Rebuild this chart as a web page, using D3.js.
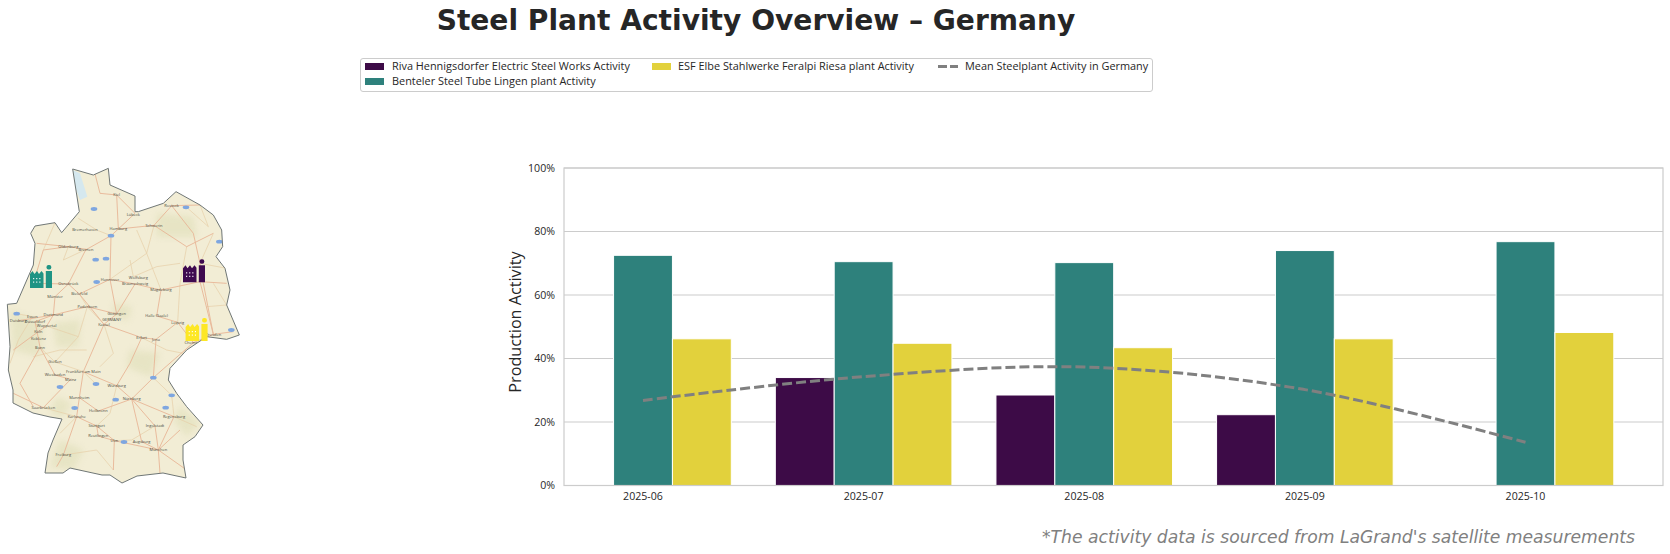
<!DOCTYPE html>
<html>
<head>
<meta charset="utf-8">
<script src="https://cdn.jsdelivr.net/npm/d3@7"></script>
<style>
  html, body { margin: 0; padding: 0; background: white; }
  svg { display: block; }
</style>
</head>
<body>
<div id="chart"></div>
<script>
// chart data
const months = ["2025-06", "2025-07", "2025-08", "2025-09", "2025-10"]
const rivaActivity = [null, 34, 28.5, 22.3, null]
const bentelerActivity = [72.5, 70.5, 70.2, 74, 76.8]
const esfActivity = [46.2, 44.8, 43.4, 46.2, 48.2]
const meanActivity = [26.8, 34.3, 37.3, 30.2, 13.6]
const yTicks = [0, 20, 40, 60, 80, 100]

const seriesNames = [
  "Riva Hennigsdorfer Electric Steel Works Activity",
  "Benteler Steel Tube Lingen plant Activity",
  "ESF Elbe Stahlwerke Feralpi Riesa plant Activity"
]
const seriesValues = [rivaActivity, bentelerActivity, esfActivity]
const seriesColors = ["#3d0b47", "#2e817c", "#e2d13c"]
const meanName = "Mean Steelplant Activity in Germany"

// map sheet, in the units of the map picture
const mapOutline = [[218,57],[280,75],[325,55],[330,105],[405,138],[405,185],[415,185],[490,160],[528,125],[600,165],[640,195],[665,240],[668,290],[648,320],[675,355],[690,420],[680,465],[718,555],[680,568],[620,560],[560,600],[510,655],[505,690],[530,730],[560,770],[609,825],[585,860],[549,885],[549,930],[558,984],[489,969],[411,978],[366,999],[330,975],[306,975],[210,954],[189,969],[135,969],[144,909],[159,870],[186,807],[150,801],[99,789],[39,759],[39,720],[25,660],[30,590],[22,463],[50,460],[100,345],[105,280],[92,250],[105,228],[165,218],[185,248],[238,185]]
const mapWater = [[218,60],[240,70],[262,140],[240,150],[225,110]]
const mapHills = [[[160,520],[240,510],[235,590],[170,590]],[[340,460],[395,470],[385,510],[340,500]],[[390,600],[480,610],[450,680],[380,650]],[[170,740],[215,760],[190,800],[150,790]],[[540,770],[600,820],[560,860],[520,810]],[[30,480],[130,520],[120,620],[40,600]],[[180,870],[250,900],[220,960],[150,950]],[[470,190],[580,200],[590,260],[470,260]]]
const roads = [
  [[282,60],[300,130],[350,135],[355,237],[333,257],[260,298],[205,290],[110,280]],
  [[350,135],[405,190],[355,237],[462,226],[515,167],[600,165]],
  [[462,226],[560,290],[640,250]],
  [[515,167],[580,250],[600,340],[610,400],[640,553]],
  [[333,257],[330,388],[350,492],[312,523],[250,665],[238,743],[230,800],[290,828],[343,872],[475,900],[480,970]],
  [[258,298],[205,402],[165,440],[160,495],[105,515],[115,565],[120,592],[165,675],[212,688]],
  [[330,388],[238,432],[205,402],[100,400]],
  [[330,388],[405,402],[483,420],[600,395],[680,400]],
  [[483,420],[470,498],[533,517],[580,578],[640,553],[700,545]],
  [[533,517],[468,568],[425,563],[312,523],[238,432]],
  [[468,568],[460,683],[395,747],[465,828],[475,900]],
  [[395,747],[350,707],[250,665]],
  [[395,747],[295,783],[238,743]],
  [[160,495],[262,470],[350,492],[405,402]],
  [[55,512],[160,495],[140,528],[115,545],[40,600]],
  [[212,688],[130,773],[40,730]],
  [[230,800],[190,915],[170,950]],
  [[290,828],[295,858],[343,872],[340,960]],
  [[395,747],[425,875],[475,900],[540,840]],
  [[395,747],[522,800],[475,900]],
  [[460,683],[580,578]],
  [[475,900],[560,960]],
  [[100,400],[130,300],[205,290]],
  [[600,395],[640,553]],
  [[425,563],[390,640],[350,707]],
  [[120,592],[60,700],[100,770]]
]
const minorRoads = [
  [[235,205],[290,240],[333,257]],[[462,226],[440,310],[483,420]],[[205,290],[190,330],[258,298]],
  [[390,330],[400,380],[470,350],[540,340]],[[560,290],[540,400],[533,517]],[[640,250],[600,340],[680,355]],
  [[238,432],[262,470],[235,560],[165,636],[120,592]],[[262,470],[312,523],[340,610],[300,650]],[[165,636],[250,665],[288,702]],
  [[50,491],[97,500],[55,570],[30,640]],[[140,528],[235,560]],[[350,707],[330,790],[290,828]],
  [[522,800],[590,830]],[[465,828],[395,870],[343,872]],[[522,800],[515,736],[460,683]],[[190,915],[290,900],[340,960]],
  [[130,773],[230,800]],[[100,620],[180,600],[260,600]],[[425,563],[500,600],[600,620]],[[620,470],[680,465],[640,400]],
  [[600,165],[625,230],[560,172]],[[180,850],[230,800]],[[130,300],[165,218]],[[410,240],[440,310],[330,388]]
]
const cityNames = ["Kiel","Rostock","Hamburg","Schwerin","Lübeck","Bremerhaven","Oldenburg","Bremen","Hannover","Wolfsburg","Braunschweig","Magdeburg","Osnabrück","Bielefeld","Münster","Paderborn","Göttingen","Kassel","Dortmund","Essen","Duisburg","Düsseldorf","Wuppertal","Köln","Bonn","Leipzig","Halle (Saale)","Dresden","Chemnitz","Erfurt","Jena","Frankfurt am Main","Mainz","Wiesbaden","Gießen","Koblenz","Saarbrücken","Mannheim","Karlsruhe","Würzburg","Nürnberg","Heilbronn","Stuttgart","Regensburg","Ingolstadt","Augsburg","München","Ulm","Reutlingen","Freiburg","GERMANY"]
const cityX = [350,515,355,462,400,255,205,258,330,415,405,483,205,238,165,262,350,312,160,97,55,105,140,115,120,533,470,640,580,425,468,250,212,165,165,115,130,238,230,350,395,295,290,522,465,425,475,343,295,190,335]
const cityY = [133,167,237,226,195,238,290,298,388,382,402,420,402,432,440,470,492,523,495,500,512,515,528,545,592,517,498,553,578,563,568,665,688,675,636,565,773,743,800,707,747,783,828,800,828,875,900,872,858,915,510]
const badgeX = [282,558,333,658,287,318,290,50,694,460,288,180,347,515,224,497,372]
const badgeY = [177,172,257,275,329,326,396,491,540,683,702,711,749,736,774,773,876]

// plants on the map: lon / lat
const plantLon = [13.2, 7.3, 13.3]
const plantLat = [52.63, 52.5, 51.3]
const plantColors = ["#3f0a50", "#1f9484", "#fde725"]

const width = 1670
const height = 554
const uiFont = "'Open Sans', sans-serif"
const titleFont = "'DejaVu Sans', sans-serif"
const gridColor = "#cccccc"
const textColor = "#262626"

const svg = d3.select("#chart").append("svg")
  .attr("width", width)
  .attr("height", height)

// --------- TITLE AND FOOTNOTE
svg.append("text")
  .attr("x", 756)
  .attr("y", 29.5)
  .attr("text-anchor", "middle")
  .style("font-family", titleFont)
  .style("font-weight", "bold")
  .style("font-size", "28.1px")
  .style("fill", textColor)
  .text("Steel Plant Activity Overview – Germany")

svg.append("text")
  .attr("x", 1635)
  .attr("y", 543)
  .attr("text-anchor", "end")
  .style("font-family", titleFont)
  .style("font-style", "italic")
  .style("font-size", "17.2px")
  .style("fill", "#808080")
  .text("*The activity data is sourced from LaGrand's satellite measurements")

// --------- BAR CHART
const xScale = d3.scalePoint().domain(months).range([643, 1525.5])
const groupScale = d3.scaleBand().domain(d3.range(seriesNames.length)).range([-88.3, 88.3])
const yScale = d3.scaleLinear().domain([0, 100]).range([485.5, 168])
const plotLeft = 564
const plotRight = 1663

const grid = svg.append("g")
grid.selectAll("line")
  .data(yTicks)
  .join("line")
  .attr("x1", plotLeft)
  .attr("x2", plotRight)
  .attr("y1", d => yScale(d))
  .attr("y2", d => yScale(d))
  .attr("stroke", gridColor)
  .attr("stroke-width", 1.1)

seriesValues.forEach((values, i) => {
  svg.append("g").selectAll("rect")
    .data(months.map((m, j) => ({month: m, value: values[j]})).filter(d => d.value !== null))
    .join("rect")
    .attr("x", d => xScale(d.month) + groupScale(i))
    .attr("y", d => yScale(d.value))
    .attr("width", groupScale.bandwidth())
    .attr("height", d => yScale(0) - yScale(d.value))
    .attr("fill", seriesColors[i])
    .attr("stroke", "white")
    .attr("stroke-width", 1)
})

// spines on top of the bars
svg.append("rect")
  .attr("x", plotLeft)
  .attr("y", yScale(100))
  .attr("width", plotRight - plotLeft)
  .attr("height", yScale(0) - yScale(100))
  .attr("fill", "none")
  .attr("stroke", gridColor)
  .attr("stroke-width", 1.2)

const meanLine = d3.line()
  .x((d, i) => xScale(months[i]))
  .y(d => yScale(d))
  .curve(d3.curveCatmullRom.alpha(0.5))

svg.append("path")
  .attr("d", meanLine(meanActivity))
  .attr("fill", "none")
  .attr("stroke", "#808080")
  .attr("stroke-width", 3)
  .attr("stroke-dasharray", "10,4")

svg.append("g").selectAll("text")
  .data(yTicks)
  .join("text")
  .attr("x", 555)
  .attr("y", d => yScale(d))
  .attr("dy", "0.35em")
  .attr("text-anchor", "end")
  .style("font-family", uiFont)
  .style("font-size", "10.6px")
  .style("fill", textColor)
  .text(d => d + "%")

svg.append("g").selectAll("text")
  .data(months)
  .join("text")
  .attr("x", d => xScale(d))
  .attr("y", 496)
  .attr("dy", "0.35em")
  .attr("text-anchor", "middle")
  .style("font-family", uiFont)
  .style("font-size", "10.6px")
  .style("fill", textColor)
  .text(d => d)

svg.append("text")
  .attr("transform", "translate(521, 322) rotate(-90)")
  .attr("text-anchor", "middle")
  .style("font-family", uiFont)
  .style("font-size", "16.2px")
  .style("fill", textColor)
  .text("Production Activity")

// --------- LEGEND
const legend = svg.append("g")
legend.append("rect")
  .attr("x", 360.5)
  .attr("y", 58.5)
  .attr("width", 792)
  .attr("height", 33)
  .attr("rx", 2.5)
  .attr("fill", "white")
  .attr("stroke", gridColor)

const swatchX = [365, 365, 652]
const labelX = [392, 392, 678]
const rowY = [66.5, 81.5, 66.5]

seriesNames.forEach((name, i) => {
  legend.append("rect")
    .attr("x", swatchX[i])
    .attr("y", rowY[i] - 3.5)
    .attr("width", 19)
    .attr("height", 7)
    .attr("fill", seriesColors[i])
  legend.append("text")
    .attr("x", labelX[i])
    .attr("y", rowY[i])
    .attr("dy", "0.35em")
    .style("font-family", uiFont)
    .style("font-size", "10.9px")
    .style("fill", textColor)
    .text(name)
})

legend.append("line")
  .attr("x1", 938)
  .attr("x2", 958)
  .attr("y1", 66.5)
  .attr("y2", 66.5)
  .attr("stroke", "#808080")
  .attr("stroke-width", 3)
  .attr("stroke-dasharray", "9,3")
legend.append("text")
  .attr("x", 965)
  .attr("y", 66.5)
  .attr("dy", "0.35em")
  .style("font-family", uiFont)
  .style("font-size", "10.9px")
  .style("fill", textColor)
  .text(meanName)

// --------- MAP
const mapX = d3.scaleLinear().domain([0, 720]).range([0, 240])
const mapY = d3.scaleLinear().domain([0, 930]).range([150, 460])
const mapLine = d3.line().x(d => mapX(d[0])).y(d => mapY(d[1]))
const lonScale = d3.scaleLinear().domain([7.3, 13.2]).range([41, 194])
const latScale = d3.scaleLinear().domain([52.5, 51.3]).range([276, 329])

const map = svg.append("g")
svg.append("clipPath").attr("id", "germany")
  .append("path").attr("d", mapLine(mapOutline) + "Z")

const inside = map.append("g").attr("clip-path", "url(#germany)")
inside.append("path")
  .attr("d", mapLine(mapOutline) + "Z")
  .attr("fill", "#f2edd5")
mapHills.forEach(h => {
  inside.append("path")
    .attr("d", mapLine(h) + "Z")
    .attr("fill", "#dcdcb4")
    .attr("opacity", 0.5)
    .style("filter", "blur(3px)")
})
inside.append("path")
  .attr("d", mapLine(mapWater) + "Z")
  .attr("fill", "#d5e8ef")

inside.selectAll("path.minor")
  .data(minorRoads)
  .join("path")
  .attr("class", "minor")
  .attr("d", d => mapLine(d))
  .attr("fill", "none")
  .attr("stroke", "#e6cfa8")
  .attr("stroke-width", 0.7)

inside.selectAll("path.road")
  .data(roads)
  .join("path")
  .attr("class", "road")
  .attr("d", d => mapLine(d))
  .attr("fill", "none")
  .attr("stroke", "#e8b596")
  .attr("stroke-width", 0.9)

map.append("path")
  .attr("d", mapLine(mapOutline) + "Z")
  .attr("fill", "none")
  .attr("stroke", "#6f7674")
  .attr("stroke-width", 1)

inside.selectAll("ellipse")
  .data(badgeX)
  .join("ellipse")
  .attr("cx", d => mapX(d))
  .attr("cy", (d, i) => mapY(badgeY[i]))
  .attr("rx", 3.3)
  .attr("ry", 1.9)
  .attr("fill", "#7ea6e0")

inside.selectAll("text")
  .data(cityNames)
  .join("text")
  .attr("x", (d, i) => mapX(cityX[i]))
  .attr("y", (d, i) => mapY(cityY[i]))
  .attr("dy", "0.35em")
  .attr("text-anchor", "middle")
  .style("font-family", uiFont)
  .style("font-size", "4px")
  .style("fill", "#4a4a40")
  .text(d => d)

// factory icon, drawn around the plant location
const drawFactory = (x, y, color) => {
  const g = map.append("g").attr("transform", `translate(${x - 11}, ${y - 11})`)
  g.append("path")
    .attr("d", "M0 23V9L2.5 6 4.5 9 7 6 9 9 11.5 6 13.5 8.5V23Z")
    .attr("fill", color)
  g.append("path")
    .attr("d", "M15.8 23V6H22V23Z")
    .attr("fill", color)
  g.append("rect")
    .attr("x", 16.5)
    .attr("y", 0)
    .attr("width", 4.8)
    .attr("height", 4.6)
    .attr("rx", 2)
    .attr("fill", color)
  const dotsX = [3.6, 6.7, 9.8]
  const dotsY = [13, 16.5]
  dotsY.forEach(dy => dotsX.forEach(dx => {
    g.append("rect")
      .attr("x", dx - 0.5)
      .attr("y", dy)
      .attr("width", 1.1)
      .attr("height", 1.2)
      .attr("fill", "white")
  }))
}

plantLon.forEach((lon, i) => {
  drawFactory(lonScale(lon), latScale(plantLat[i]), plantColors[i])
})
</script>
</body>
</html>
